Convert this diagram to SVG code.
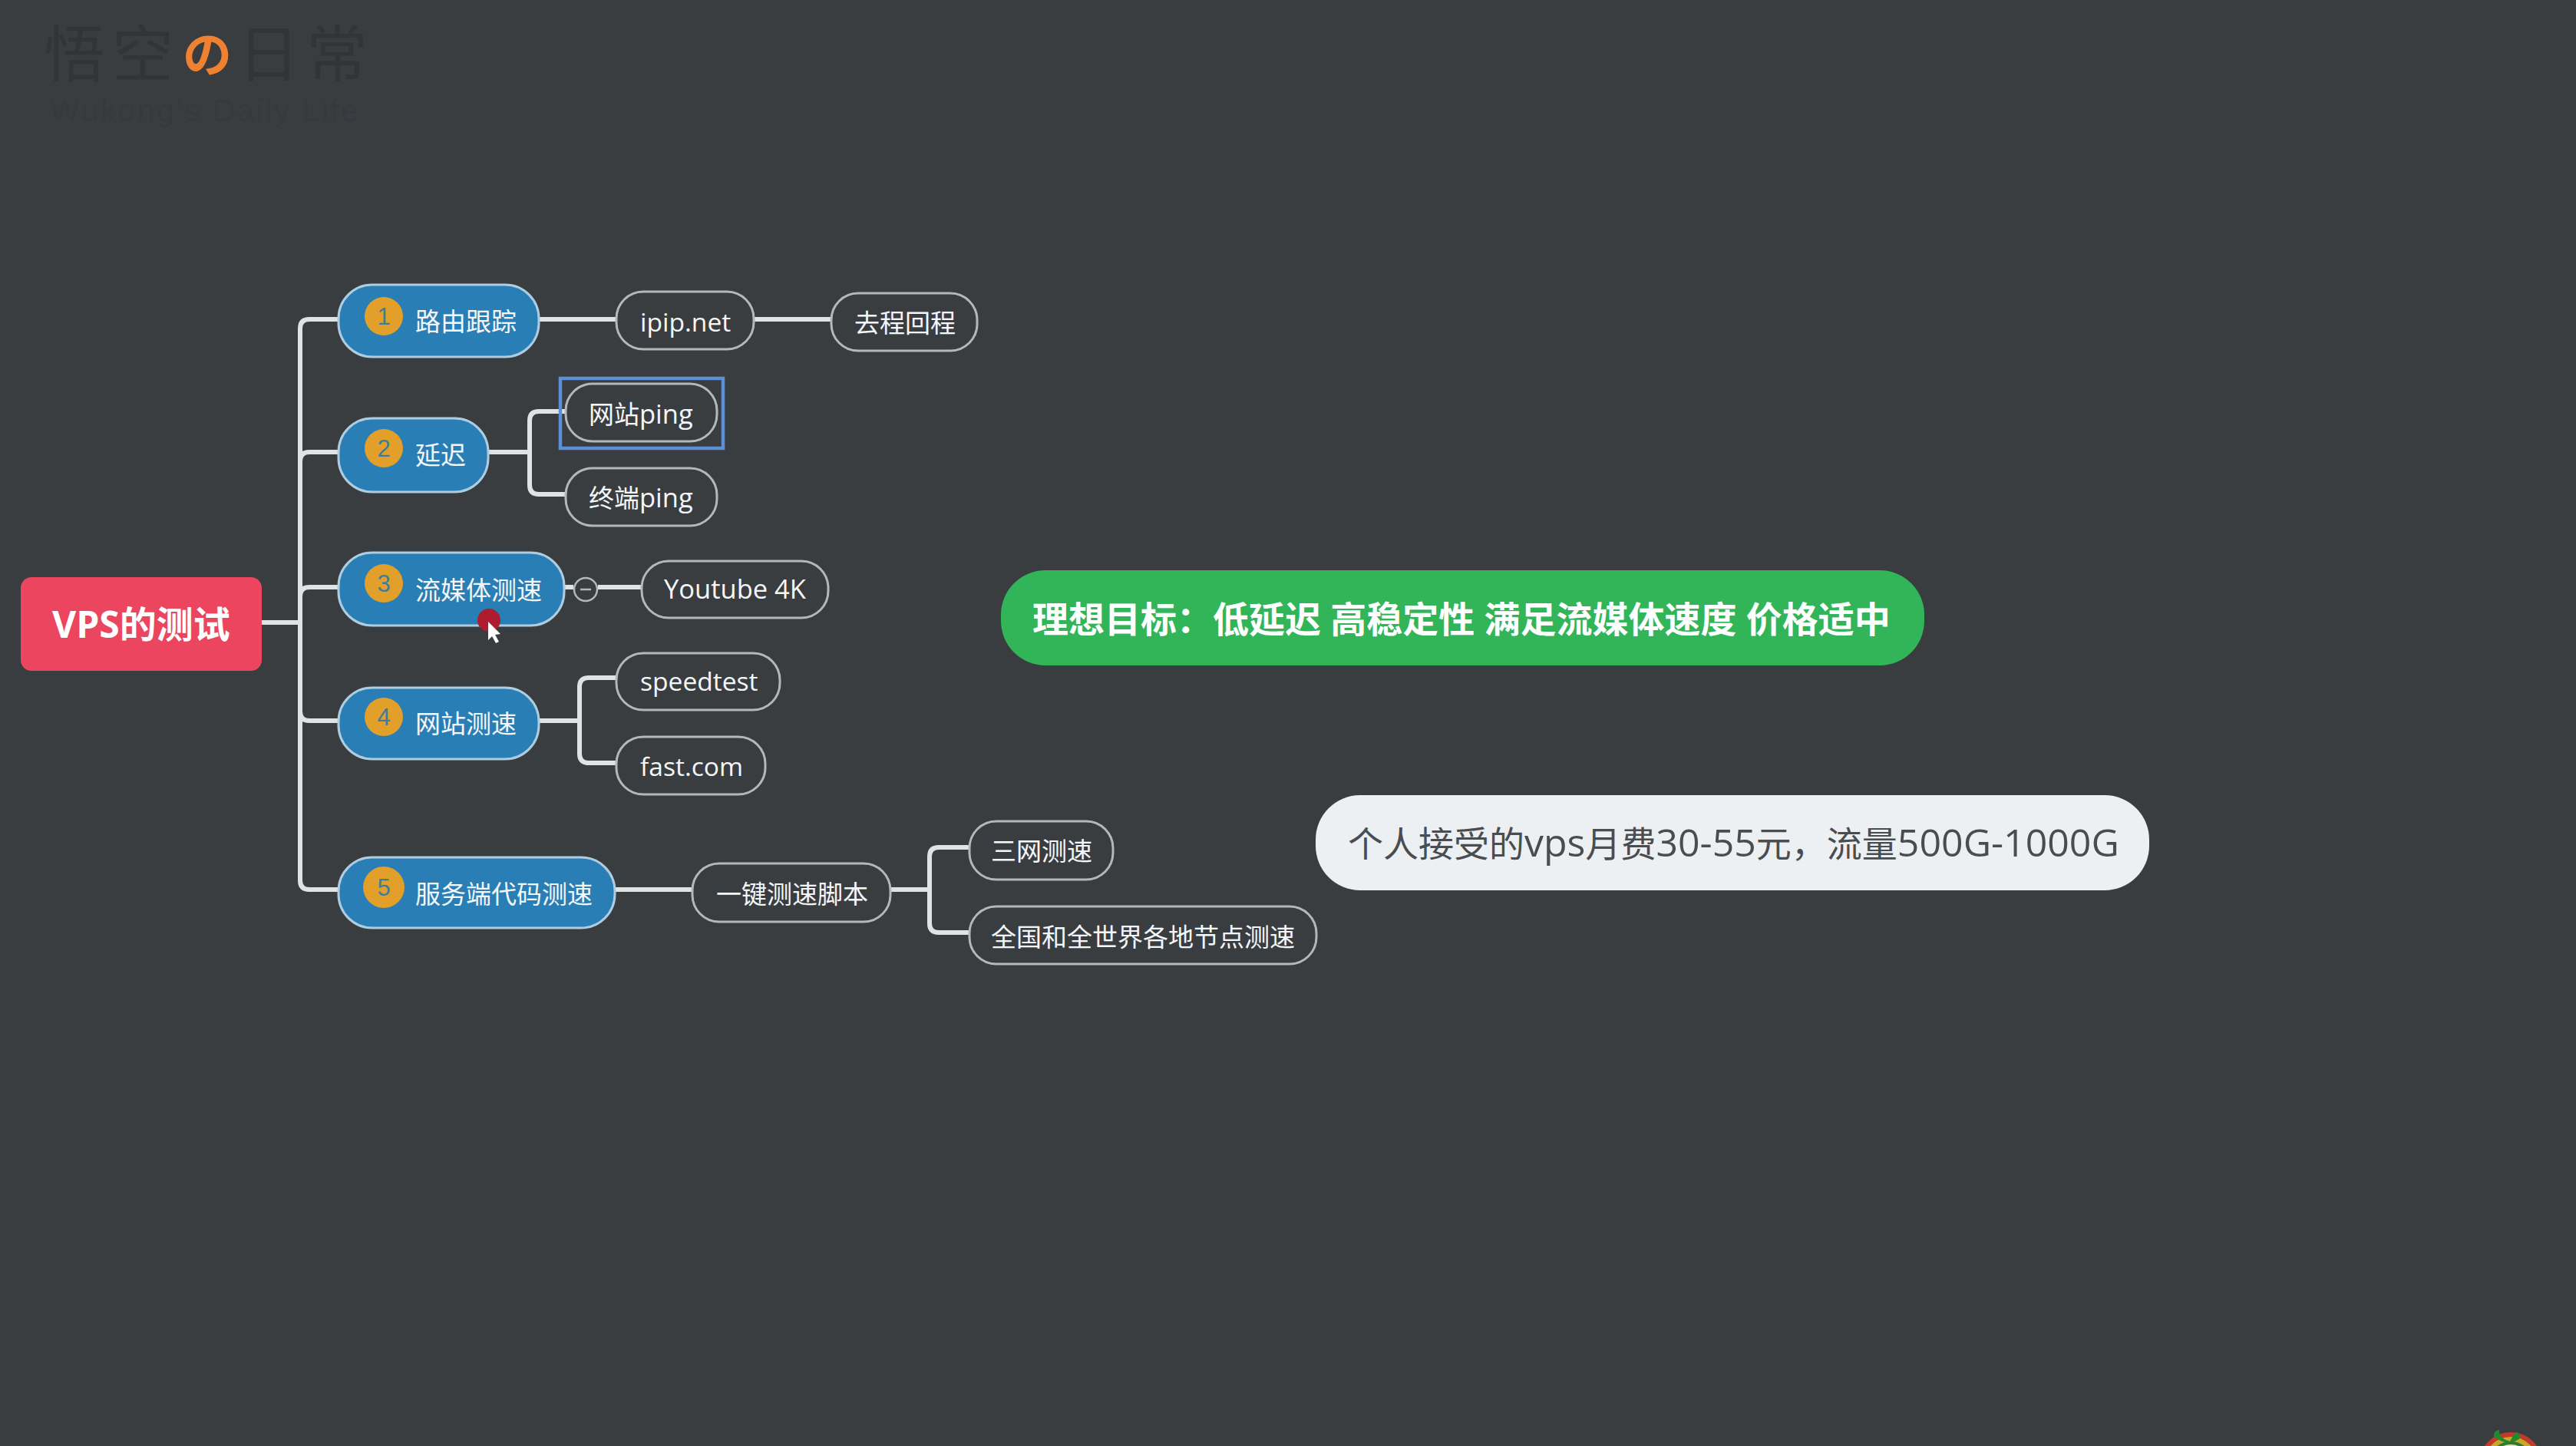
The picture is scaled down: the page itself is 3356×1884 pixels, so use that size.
<svg xmlns="http://www.w3.org/2000/svg" width="3356" height="1884" viewBox="0 0 3356 1884">
<style>
text{font-family:"Open Sans","Noto Sans CJK SC",sans-serif}
.main{fill:#2a7eb6;stroke:#aecde0;stroke-width:3}
.sub{fill:#3a3d40;stroke:#b4b8b9;stroke-width:3}
.t{fill:#f4f7f9;font-size:33px}
.l{font-size:33.6px}
.badge{fill:#e2a02a}
.num{fill:#3f7c9c;font-size:31px;text-anchor:middle;font-family:"Liberation Sans",sans-serif}
.link{fill:none;stroke:#e0e3e4;stroke-width:6}
.wm{fill:#323436;font-size:80px;font-family:"Noto Sans CJK SC",sans-serif;font-weight:400}
</style>
<rect width="3356" height="1884" fill="#3a3d40"/>
<g id="watermark">
<text class="wm" x="57" y="99">悟</text>
<text class="wm" x="146" y="99">空</text>
<text x="238" y="94" font-size="64" font-weight="700" fill="#ef8230" style="font-family:'Noto Sans CJK JP',sans-serif">の</text>
<text class="wm" x="310" y="99">日</text>
<text class="wm" x="399" y="99">常</text>
<text x="65" y="158" font-size="41" fill="#353a3e" style="font-family:'Liberation Sans',sans-serif" textLength="402">Wukong's Daily Life</text>
</g>
<g id="connectors">
<path class="link" d="M341 811H391M441 416H403Q391 416 391 428V1147Q391 1159 403 1159H441"/>
<path class="link" d="M391 601Q391 589 403 589H441M391 777Q391 765 403 765H441M391 927Q391 939 403 939H441"/>
<path class="link" d="M703 416H803M982 416H1083"/>
<path class="link" d="M636 589H690M737 536H702Q690 536 690 548V632Q690 644 702 644H737"/>
<path class="link" d="M735 765H747M779 765H835"/>
<path class="link" d="M703 939H755M803 883H767Q755 883 755 895V982Q755 994 767 994H803"/>
<path class="link" d="M801 1159H902M1161 1159H1211M1263 1104H1223Q1211 1104 1211 1116V1203Q1211 1215 1223 1215H1263"/>
</g>
<g id="root"><rect x="27" y="752" width="314" height="122" rx="14" fill="#ec4560"/><text x="68" y="831" font-size="48" font-weight="700" fill="#fff">VPS的测试</text></g>
<g id="n1"><rect class="main" x="441" y="371" width="261" height="94" rx="44"/><circle class="badge" cx="500" cy="412" r="25"/><text class="num" x="500" y="423">1</text><text class="t" x="541" y="431">路由跟踪</text></g>
<g id="n1a"><rect class="sub" x="803" y="380" width="179" height="75" rx="35"/><text class="t" x="834" y="432"><tspan class="l">ipip.net</tspan></text></g>
<g id="n1b"><rect class="sub" x="1083" y="382" width="190" height="75" rx="35"/><text class="t" x="1113" y="433">去程回程</text></g>
<g id="n2"><rect class="main" x="441" y="545" width="195" height="96" rx="44"/><circle class="badge" cx="500" cy="584" r="25"/><text class="num" x="500" y="595">2</text><text class="t" x="541" y="605">延迟</text></g>
<g id="n2a"><rect x="730" y="493" width="212" height="91" fill="none" stroke="#5b8fd6" stroke-width="4.5"/><rect class="sub" x="737" y="500" width="197" height="75" rx="35"/><text class="t" x="767" y="552">网站<tspan font-size="34.5">ping</tspan></text></g>
<g id="n2b"><rect class="sub" x="737" y="610" width="197" height="75" rx="35"/><text class="t" x="767" y="661">终端<tspan font-size="34.5">ping</tspan></text></g>
<g id="n3"><rect class="main" x="441" y="720" width="294" height="95" rx="44"/><circle class="badge" cx="500" cy="760" r="25"/><text class="num" x="500" y="771">3</text><text class="t" x="541" y="781">流媒体测速</text><circle cx="637" cy="808" r="15" fill="#ae1c30"/><path d="M636 810V834L641 829L646 838L650 836L645 827L652 826Z" fill="#fff"/></g>
<g id="n3c"><circle cx="763" cy="768" r="15" fill="#3a3d40" stroke="#b4b8b9" stroke-width="2.5"/><path d="M756 768H770" stroke="#b4b8b9" stroke-width="2.5"/></g>
<g id="n3a"><rect class="sub" x="836" y="731" width="243" height="74" rx="35"/><text class="t" x="865" y="780"><tspan font-size="34.5">Youtube 4K</tspan></text></g>
<g id="n4"><rect class="main" x="441" y="896" width="261" height="93" rx="44"/><circle class="badge" cx="500" cy="934" r="25"/><text class="num" x="500" y="945">4</text><text class="t" x="541" y="955">网站测速</text></g>
<g id="n4a"><rect class="sub" x="803" y="851" width="213" height="74" rx="35"/><text class="t" x="834" y="900"><tspan class="l">speedtest</tspan></text></g>
<g id="n4b"><rect class="sub" x="803" y="960" width="194" height="75" rx="35"/><text class="t" x="834" y="1011"><tspan class="l">fast.com</tspan></text></g>
<g id="n5"><rect class="main" x="441" y="1117" width="360" height="92" rx="44"/><circle class="badge" cx="500" cy="1156" r="27"/><text class="num" x="500" y="1167">5</text><text class="t" x="541" y="1177">服务端代码测速</text></g>
<g id="n5a"><rect class="sub" x="902" y="1125" width="258" height="76" rx="35"/><text class="t" x="933" y="1177">一键测速脚本</text></g>
<g id="n5b"><rect class="sub" x="1263" y="1070" width="187" height="76" rx="35"/><text class="t" x="1291" y="1121">三网测速</text></g>
<g id="n5c"><rect class="sub" x="1263" y="1181" width="452" height="75" rx="35"/><text class="t" x="1291" y="1233">全国和全世界各地节点测速</text></g>
<g id="goal"><rect x="1304" y="743" width="1203" height="124" rx="58" fill="#32b558"/><text x="1345" y="824" font-size="47" font-weight="700" fill="#fff">理想目标&#xFF1A;低延迟 高稳定性 满足流媒体速度 价格适中</text></g>
<g id="budget"><rect x="1714" y="1036" width="1086" height="124" rx="58" fill="#edf0f2"/><text x="1756" y="1116" font-size="46" fill="#4a4d50">个人接受的<tspan font-size="50">vps</tspan>月费<tspan font-size="50">30-55</tspan>元&#xFF0C;流量<tspan font-size="50">500G-1000G</tspan></text></g>
<g id="corner-icon">
<circle cx="3271" cy="1907" r="38" fill="#c9a52c" stroke="#c23a2a" stroke-width="6"/>
<circle cx="3271" cy="1907" r="27" fill="#e8dfb8" stroke="#2e7a32" stroke-width="4"/>
<path d="M3249 1872Q3248 1864 3256 1863Q3255 1874 3270 1878Q3276 1866 3280 1866Q3284 1872 3283 1874Q3268 1886 3249 1872Z" fill="#1f8a2e"/>
</g>
</svg>
